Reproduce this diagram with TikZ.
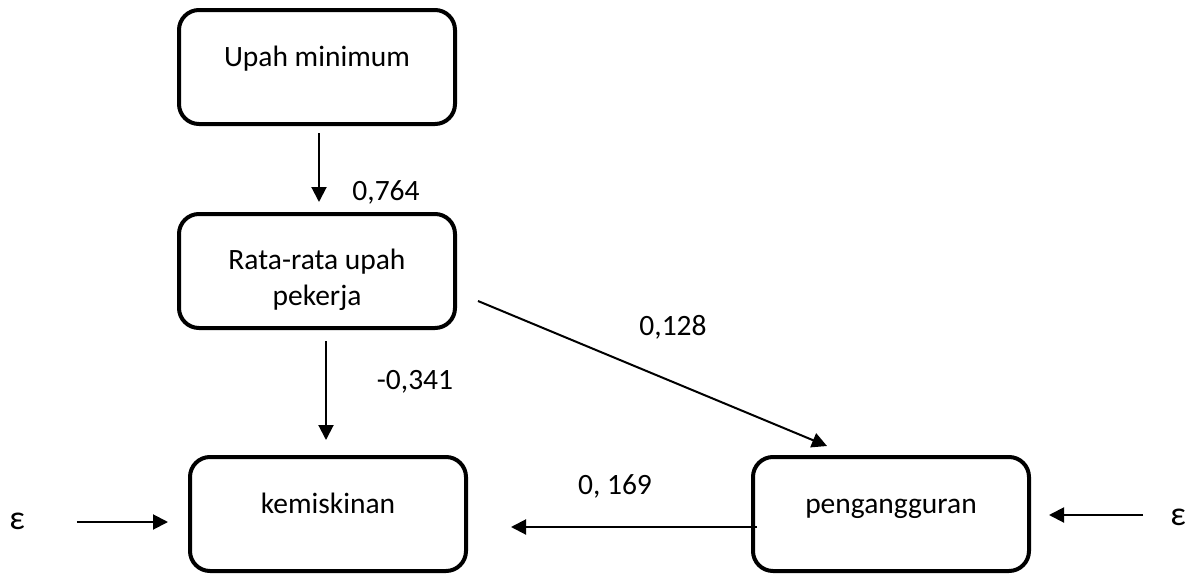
\documentclass[tikz,border=0pt]{standalone}
\usepackage{fontspec}
\setmainfont{Carlito}
\usetikzlibrary{arrows.meta,positioning}

\begin{document}
\begin{tikzpicture}[x=1pt,y=-1pt,>={Triangle[length=15pt,width=15pt]},
  font=\fontsize{29.5}{36}\selectfont,node distance=86pt,
  box/.style={draw,line width=4pt,rounded corners=20pt,minimum width=276pt,
              minimum height=114pt,inner sep=0pt},
  boxtext/.style={anchor=north,yshift=-37pt,inner sep=0pt,align=center},
  linetext/.style={boxtext,text height=21pt},
  arr/.style={->,line width=2pt},
  coef/.style={inner sep=0pt},
  eps/.style={inner sep=0pt,font=\fontsize{34}{34}\selectfont}]
\useasboundingbox (0,0) rectangle (1195,576);
\node[box,label={[linetext]north:Upah minimum}] (upah) at (317,67) {};
\node[box,below=of upah,label={[boxtext]north:Rata-rata upah\\pekerja}] (rata) {};
\node[box,label={[linetext]north:kemiskinan}] (kemis) at (328,514) {};
\node[box,label={[linetext]north:pengangguran}] (pengang) at (891,514) {};
\node[eps] (eps1) at (17,521) {ε};
\node[eps] (eps2) at (1178,517) {ε};
\draw[arr] ([xshift=2pt,yshift=-7pt]upah.south) -- ([xshift=2pt,yshift=10pt]rata.north);
\draw[arr] ([xshift=9pt,yshift=-11pt]rata.south) -- ([xshift=-2pt,yshift=15pt]kemis.north);
\draw[arr] ([xshift=21pt,yshift=-30pt]rata.east) -- ([xshift=-64pt,yshift=9pt]pengang.north);
\draw[arr] ([xshift=6pt,yshift=-13pt]pengang.west) -- ([xshift=43pt,yshift=-13pt]kemis.east);
\draw[arr] ([xshift=52pt,yshift=-1pt]eps1.east) -- ([xshift=-20pt,yshift=-8pt]kemis.west);
\draw[arr] ([xshift=-27pt,yshift=2pt]eps2.west) -- ([xshift=18pt,yshift=-1pt]pengang.east);
\node[coef] (c764) at (386,192) {0,764};
\node[coef] (c341) at (415,382) {-0,341};
\node[coef] (c128) at (673,327) {0,128};
\node[coef] (c169) at (615,486) {0, 169};
\end{tikzpicture}
\end{document}
